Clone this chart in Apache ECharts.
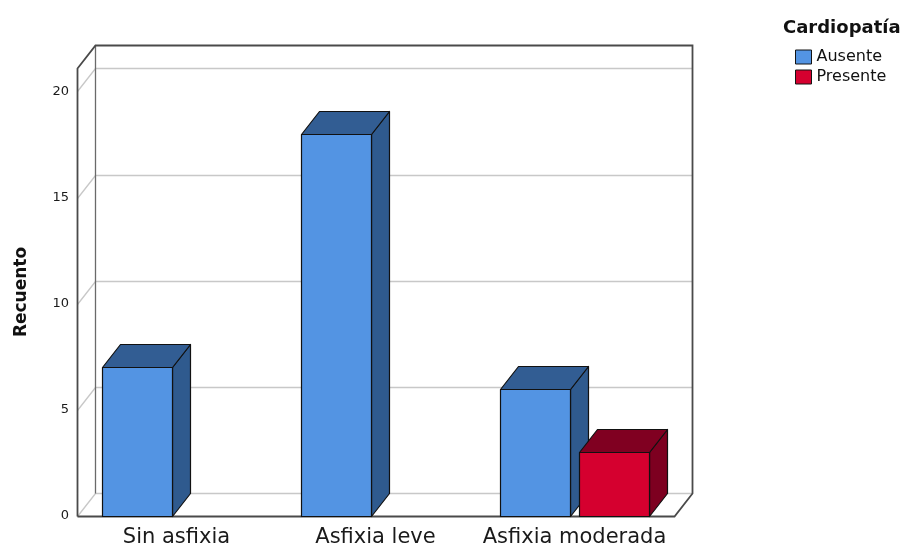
<!DOCTYPE html>
<html>
<head>
<meta charset="utf-8">
<script src="https://cdn.jsdelivr.net/npm/echarts@6/dist/echarts.min.js"></script>
<style>
  html, body { margin: 0; padding: 0; background: #fff; }
  #chart { width: 904px; height: 548px; }
</style>
</head>
<body>
<div id="chart"></div>
<script>
// Counts by asphyxia grade, split by heart disease status
const categories = ['Sin asfixia', 'Asfixia leve', 'Asfixia moderada'];
const ausente = [7, 18, 6];
const presente = [null, null, 3];
const yTicks = [0, 5, 10, 15, 20];

// Pseudo-3D depth of the box and the bars (pixels)
const DEPTH_X = 18;
const DEPTH_Y = -23;
// Bar width and offset from the band centre, as fractions of the band
const BAR_FRAC = 0.353;
const OFFSET_FRAC = 0.198;

const FONT = 'DejaVu Sans';

function bar3d(offsetSign, front, side, top) {
  return function (params, api) {
    const v = api.value(1);
    if (!(v > 0)) return null;
    const idx = api.value(0);
    const base = api.coord([idx, 0]);
    const tip = api.coord([idx, v]);
    const band = api.size([1, 0])[0];
    const w = band * BAR_FRAC;
    const cx = base[0] + offsetSign * band * OFFSET_FRAC;
    const x0 = Math.round(cx - w / 2) + 0.5;
    const x1 = Math.round(cx + w / 2) + 0.5;
    const yb = Math.round(base[1]) + 0.5;
    const yt = Math.round(tip[1]) + 0.5;
    const dx = DEPTH_X, dy = DEPTH_Y;
    const line = { stroke: '#111', lineWidth: 1.2, lineJoin: 'round' };
    return {
      type: 'group',
      children: [
        { type: 'polygon', shape: { points: [[x1, yt], [x1 + dx, yt + dy], [x1 + dx, yb + dy], [x1, yb]] },
          style: Object.assign({ fill: side }, line) },
        { type: 'polygon', shape: { points: [[x0, yt], [x0 + dx, yt + dy], [x1 + dx, yt + dy], [x1, yt]] },
          style: Object.assign({ fill: top }, line) },
        { type: 'rect', shape: { x: x0, y: yt, width: x1 - x0, height: yb - yt },
          style: Object.assign({ fill: front }, line) }
      ]
    };
  };
}

// Box: left wall, back wall, floor and gridlines on the back wall
function frame(params, api) {
  const cs = params.coordSys;
  const L = Math.round(cs.x) + 0.5;
  const R = Math.round(cs.x + cs.width) + 0.5;
  const T = Math.round(cs.y) + 0.5;
  const B = Math.round(cs.y + cs.height) + 0.5;
  const dx = DEPTH_X, dy = DEPTH_Y;
  const children = [];
  yTicks.forEach(function (t) {
    const y = Math.round(api.coord([0, t])[1]) + 0.5;
    children.push({
      type: 'polyline',
      shape: { points: [[L, y], [L + dx, y + dy], [R + dx, y + dy]] },
      style: { stroke: '#c8c8c8', lineWidth: 1.3, fill: null }
    });
  });
  children.push({
    type: 'polyline',
    shape: { points: [[L + dx, T + dy], [L + dx, B + dy]] },
    style: { stroke: '#6a6a6a', lineWidth: 1.3, fill: null }
  });
  children.push({
    type: 'polyline',
    shape: { points: [[L, B], [L, T], [L + dx, T + dy], [R + dx, T + dy], [R + dx, B + dy], [R, B], [L, B]] },
    style: { stroke: '#4a4a4a', lineWidth: 1.8, fill: null, lineJoin: 'miter' }
  });
  return { type: 'group', children: children };
}

const chart = echarts.init(document.getElementById('chart'));
chart.setOption({
  backgroundColor: '#ffffff',
  animation: false,
  title: {
    text: 'Cardiopatía',
    left: 778,
    top: 14,
    textStyle: { fontFamily: FONT, fontSize: 18, fontWeight: 'bold', color: '#111' }
  },
  legend: {
    orient: 'vertical',
    left: 790,
    top: 44,
    itemWidth: 16,
    itemHeight: 14,
    itemGap: 4,
    icon: 'rect',
    textStyle: { fontFamily: FONT, fontSize: 16, color: '#111' },
    data: [
      { name: 'Ausente', itemStyle: { color: '#5394e3', borderColor: '#141414', borderWidth: 1 } },
      { name: 'Presente', itemStyle: { color: '#d5002f', borderColor: '#141414', borderWidth: 1 } }
    ]
  },
  grid: { left: 77, right: 230, top: 68, bottom: 31, containLabel: false },
  xAxis: {
    type: 'category',
    data: categories,
    axisLine: { show: false },
    axisTick: { show: false },
    splitLine: { show: false },
    axisLabel: { interval: 0, fontFamily: FONT, fontSize: 21, color: '#1a1a1a', margin: 11 }
  },
  yAxis: {
    type: 'value',
    min: 0,
    max: 21.1,
    interval: 5,
    name: 'Recuento',
    nameLocation: 'middle',
    nameGap: 47,
    nameTextStyle: { fontFamily: FONT, fontSize: 17, fontWeight: 'bold', color: '#111' },
    axisLine: { show: false },
    axisTick: { show: false },
    splitLine: { show: false },
    axisLabel: { fontFamily: FONT, fontSize: 13, color: '#1a1a1a', margin: 8, showMaxLabel: false }
  },
  series: [
    {
      type: 'custom',
      name: 'frame',
      renderItem: frame,
      data: [[0, 0]],
      silent: true,
      z: 1
    },
    {
      type: 'custom',
      name: 'Ausente',
      renderItem: bar3d(-1, '#5394e3', '#2f5a8e', '#325d93'),
      itemStyle: { color: '#5394e3' },
      data: ausente.map(function (v, i) { return [i, v]; }),
      z: 2
    },
    {
      type: 'custom',
      name: 'Presente',
      renderItem: bar3d(1, '#d5002f', '#7d0020', '#800021'),
      itemStyle: { color: '#d5002f' },
      data: presente.map(function (v, i) { return [i, v]; }),
      z: 3
    }
  ]
});
</script>
</body>
</html>
